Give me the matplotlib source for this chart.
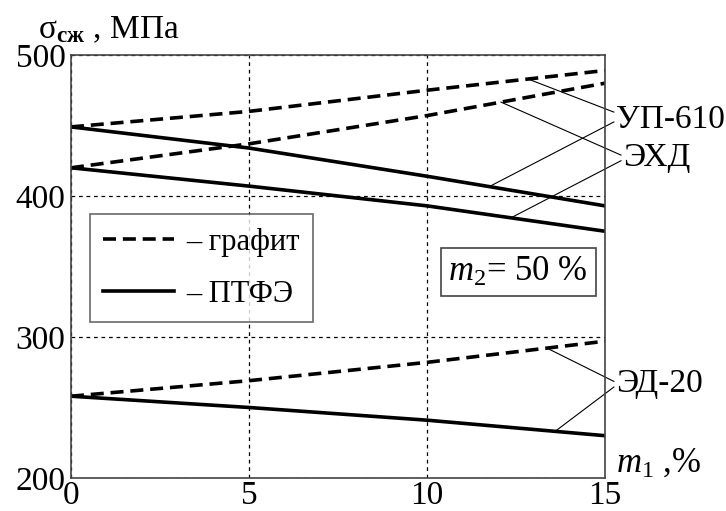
import matplotlib
matplotlib.use('Agg')
import matplotlib.pyplot as plt
from matplotlib.lines import Line2D
import numpy as np

plt.rcParams['font.family'] = ['Liberation Serif', 'DejaVu Serif']
plt.rcParams['mathtext.fontset'] = 'custom'
plt.rcParams['mathtext.rm'] = 'Liberation Serif'
plt.rcParams['mathtext.it'] = 'Liberation Serif:italic'
plt.rcParams['mathtext.bf'] = 'Liberation Serif:bold'

# m1, %
m1 = [0, 5, 10, 15]
# sigma_sж, MPa
up610_graphite = [449, 460, 475, 489]
ehd_graphite = [420, 437, 457, 480]
ed20_graphite = [258, 269, 282, 297]
up610_ptfe = [449, 434, 414, 393]
ehd_ptfe = [420, 407, 393, 375]
ed20_ptfe = [258, 250, 241, 230]

xticks = [0, 5, 10, 15]
yticks = [200, 300, 400, 500]

fig = plt.figure(figsize=(7.26, 5.11), dpi=100)
ax = fig.add_axes([0.0978, 0.0646, 0.7355, 0.8278])

dash = (3.6, 1.9)
lw = 2.6
for ys in [up610_graphite, ehd_graphite, ed20_graphite]:
    ax.plot(m1, ys, color='black', lw=lw, linestyle=(0, dash), solid_capstyle='butt')
for ys in [up610_ptfe, ehd_ptfe, ed20_ptfe]:
    ax.plot(m1, ys, color='black', lw=lw)

ax.set_xlim(0, 15)
ax.set_ylim(200, 500)
ax.set_xticks(xticks)
ax.set_yticks(yticks)
ax.tick_params(length=0, labelsize=24, pad=4)
ax.tick_params(axis='x', pad=2)
ax.grid(True, color='black', lw=0.9, linestyle=(0, (3, 3)))
for s in ax.spines.values():
    s.set_color('#444444')
    s.set_linewidth(1.2)

# leader lines: label position, list of (x on curve, curve, start y of leader)
leaders = [
    ('УП-610', 15.3, 454, [(12.84, up610_graphite, 459.5), (11.75, up610_ptfe, 452.5)]),
    ('ЭХД', 15.5, 427, [(12.08, ehd_graphite, 429), (12.36, ehd_ptfe, 425)]),
    ('ЭД-20', 15.3, 267, [(13.37, ed20_graphite, 268.5), (13.6, ed20_ptfe, 264.5)]),
]
for name, tx, ty, segs in leaders:
    for xc, ys, y0 in segs:
        yc = np.interp(xc, m1, ys)
        ax.plot([tx - 0.05, xc], [y0, yc], color='black', lw=0.8, clip_on=False)
    ax.text(tx + 0.02, ty, name, fontsize=24, va='center', ha='left')

ax.text(10.6, 346, r'$m_2$= 50 %', fontsize=25, va='center', ha='left',
        bbox=dict(boxstyle='square,pad=0.22', fc='white', ec='#444444', lw=1.2))

handles = [Line2D([], [], color='black', lw=lw, linestyle=(0, dash)),
           Line2D([], [], color='black', lw=lw)]
leg = ax.legend(handles, ['– графит', '– ПТФЭ'], loc='upper left',
                bbox_to_anchor=(0.035, 0.624), fontsize=22, frameon=True,
                fancybox=False, handlelength=2.3, handletextpad=0.4,
                labelspacing=0.75, borderpad=0.45, borderaxespad=0)
leg.get_frame().set_edgecolor('#444444')
leg.get_frame().set_linewidth(1.2)

fig.text(0.053, 0.925, r'σ$_{\mathbf{сж}}$ , МПа', fontsize=24, va='baseline', ha='left')
fig.text(0.848, 0.076, r'$m_1$ ,%', fontsize=25, va='baseline', ha='left')

fig.savefig('out.png', dpi=100)
